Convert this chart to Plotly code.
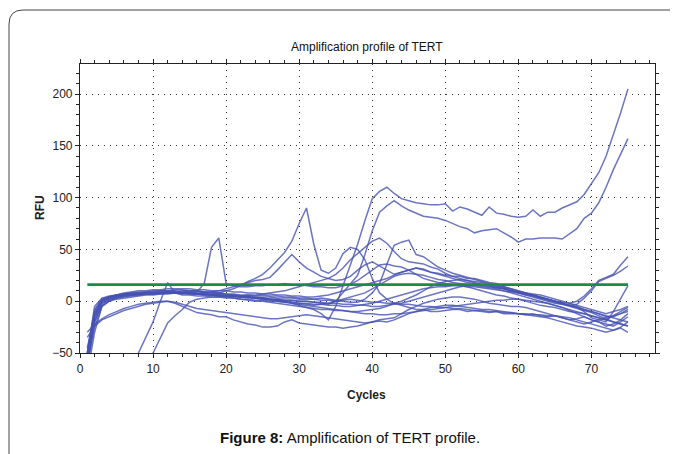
import plotly.graph_objects as go

cycles = list(range(1, 76))

curve_A = [-60, -20, -2, 2, 4, 5, 6, 6, 7, 7,
           8, 8, 8, 7, 8, 7, 6, 6, 5, 5,
           4, 4, 3, 3, 2, 2, 1, 0, -2, -4,
           -6, -8, -12, -18, -5, 15, 35, 55, 78, 99,
           106, 110, 104, 99, 97, 95, 94, 93, 93, 94,
           87, 91, 89, 86, 83, 91, 85, 84, 82, 81,
           82, 88, 82, 86, 86, 90, 93, 96, 103, 114,
           124, 140, 160, 182, 205]
curve_B = [-55, -15, 0, 3, 5, 6, 7, 7, 8, 8,
           8, 9, 9, 8, 8, 7, 7, 6, 6, 5,
           5, 4, 4, 3, 3, 2, 2, 1, 1, 0,
           0, -1, -2, -3, 0, 8, 16, 25, 45, 68,
           86, 92, 97, 92, 88, 85, 82, 81, 80, 78,
           75, 72, 70, 66, 68, 69, 70, 66, 62, 57,
           60, 60, 61, 61, 61, 60, 65, 70, 80, 85,
           95, 110, 127, 142, 157]
curve_C = [-70, -30, -5, 0, 3, 5, 6, 7, 7, 8,
           8, 9, 9, 10, 10, 9, 9, 8, 8, 10,
           12, 15, 19, 22, 26, 32, 40, 47, 58, 75,
           90, 55, 30, 27, 32, 46, 52, 50, 40, 22,
           8, 2, -2, -4, -6, -8, -8, -10, -10, -9,
           -8, -8, -10, -9, -10, -11, -10, -12, -12, -12,
           -13, -12, -14, -15, -14, -16, -18, -17, -15, -18,
           -20, -22, -24, -20, -15]
curve_D = [-55, -10, 2, 4, 5, 6, 7, 7, 7, 8,
           8, 8, 8, 8, 7, 7, 8, 9, 10, 12,
           14, 16, 18, 20, 21, 23, 30, 38, 45, 38,
           32, 28, 24, 22, 20, 21, 24, 30, 35, 38,
           34, 30, 26, 28, 30, 32, 31, 28, 27, 25,
           24, 24, 22, 22, 20, 18, 17, 14, 12, 10,
           8, 6, 4, 2, 0, -2, -4, -5, -8, -10,
           -12, -15, -14, -12, -10]
curve_E = [-50, -8, 2, 4, 6, 7, 7, 8, 8, 9,
           9, 9, 9, 8, 8, 9, 17, 52, 61, 17,
           15, 14, 14, 15, 15, 16, 16, 17, 16, 16,
           15, 14, 14, 13, 13, 15, 16, 20, 25, 30,
           35, 36, 34, 33, 30, 26, 22, 20, 18, 17,
           16, 15, 14, 12, 10, 8, 6, 5, 3, 2,
           0, -2, -4, -5, -6, -8, -10, -11, -12, -14,
           -16, -18, -20, -22, -24]
curve_F = [-60, -25, -5, 0, 2, 3, 4, 5, 6, 6,
           7, 7, 8, 8, 7, 7, 6, 6, 5, 4,
           3, 2, 1, 0, 0, -1, -2, -3, -4, -5,
           -6, -7, -8, -8, -9, -9, -10, -10, -9, -8,
           -7, -5, -2, 0, 3, 6, 10, 14, 17, 19,
           20, 21, 20, 19, 18, 16, 15, 13, 11, 9,
           7, 5, 3, 2, 0, -1, -2, 0, 5, 12,
           20, 23, 26, 35, 43]
curve_G = [-55, -20, -4, 1, 3, 4, 5, 6, 7, 7,
           7, 8, 8, 8, 8, 7, 7, 6, 6, 5,
           5, 4, 4, 3, 3, 2, 2, 1, 1, 0,
           0, -1, -1, -2, -2, -3, -3, -4, -4, -5,
           -5, -4, -3, -2, 0, 2, 4, 6, 8, 10,
           12, 14, 15, 16, 15, 14, 13, 12, 10, 8,
           6, 4, 2, 0, -2, -3, -4, -3, 3, 10,
           19, 22, 25, 29, 34]
curve_H = [-120, -110, -100, -90, -85, -78, -70, -50, -35, -20,
           0, 18, 8, 6, 6, 5, 5, 4, 4, 3,
           3, 2, 2, 1, 1, 0, 0, -1, -1, -2,
           -2, -3, -3, -4, -4, -5, -5, -4, -3, -2,
           0, 2, 4, 6, 8, 10, 12, 13, 14, 14,
           15, 15, 14, 14, 13, 12, 11, 10, 9, 8,
           7, 6, 4, 2, 0, -2, -4, -6, -10, -16,
           -18, -20, -10, 2, 15]
curve_I = [-130, -120, -110, -100, -95, -90, -85, -75, -65, -50,
           -35, -21, -14, -8, -1, 2, 3, 4, 4, 5,
           5, 5, 6, 6, 7, 8, 9, 10, 12, 14,
           16, 18, 20, 22, 26, 32, 40, 46, 52, 58,
           61, 56, 48, 41, 38, 37, 36, 33, 31, 27,
           24, 22, 20, 18, 16, 15, 13, 12, 10, 8,
           6, 5, 3, 1, -1, -3, -5, -7, -9, -11,
           -14, -17, -20, -22, -24]
curve_J = [-45, -12, 0, 3, 5, 6, 7, 7, 8, 8,
           8, 8, 9, 9, 9, 8, 8, 7, 7, 6,
           6, 5, 5, 4, 4, 4, 3, 3, 3, 2,
           2, 2, 1, 1, 0, 0, -1, -1, 2, 8,
           17, 35, 54, 57, 59, 45, 43, 38, 33, 30,
           27, 25, 23, 21, 19, 17, 15, 14, 12, 10,
           8, 6, 4, 2, 0, -2, -4, -6, -8, -10,
           -12, -14, -16, -18, -20]
curve_K = [-35, -24, -18, -15, -12, -9, -7, -5, -3, -2,
           -1, 0, -2, -5, -8, -11, -12, -13, -15, -15,
           -18, -20, -22, -23, -25, -25, -24, -20, -18, -21,
           -22, -23, -24, -25, -25, -26, -25, -24, -22, -20,
           -18, -17, -16, -12, -8, -5, -2, 0, 2, 3,
           4, 4, 3, 2, 0, -2, -3, -4, -5, -5,
           -6, -8, -10, -12, -14, -16, -18, -20, -22, -20,
           -18, -16, -15, -12, -8]
curve_L = [-30, -22, -17, -13, -10, -7, -5, -3, -2, -1,
           0, 0, -1, -3, -5, -7, -8, -9, -10, -11,
           -12, -13, -14, -15, -16, -17, -17, -16, -15, -14,
           -13, -14, -15, -16, -17, -18, -19, -20, -21, -20,
           -19, -20, -18, -15, -12, -10, -8, -6, -5, -4,
           -4, -5, -6, -7, -8, -8, -9, -10, -11, -12,
           -13, -14, -15, -16, -18, -20, -22, -24, -25, -26,
           -28, -30, -28, -26, -30]
curve_M = [-65, -15, 1, 4, 6, 7, 8, 9, 9, 10,
           10, 10, 10, 9, 10, 10, 9, 8, 8, 7,
           7, 6, 6, 5, 6, 5, 5, 4, 4, 3,
           3, 2, 3, 2, 1, 1, 2, 1, 0, -1,
           -1, -2, -2, -3, -3, -4, -5, -5, -6, -6,
           -7, -7, -8, -9, -9, -10, -10, -11, -11, -12,
           -12, -13, -13, -14, -14, -15, -16, -18, -20, -22,
           -24, -26, -28, -25, -20]
curve_N = [-50, -5, 3, 5, 6, 7, 8, 8, 9, 9,
           10, 10, 11, 11, 10, 10, 9, 9, 8, 7,
           6, 5, 4, 3, 2, 1, 0, -1, -2, -3,
           -4, -5, -6, -7, -8, -9, -10, -11, -12, -12,
           -13, -13, -12, -12, -11, -10, -9, -8, -7, -6,
           -5, -4, -3, -2, -1, 0, 1, 1, 2, 2,
           1, 0, -1, -2, -4, -6, -8, -10, -12, -14,
           -16, -18, -14, -10, -6]
curve_O = [-60, -18, 0, 4, 6, 8, 9, 10, 10, 11,
           11, 12, 12, 12, 12, 11, 11, 10, 10, 10,
           9, 9, 8, 8, 7, 7, 6, 6, 5, 5,
           4, 4, 5, 6, 8, 10, 12, 14, 16, 18,
           20, 22, 25, 28, 30, 32, 30, 28, 26, 24,
           22, 20, 18, 17, 16, 15, 14, 12, 10, 9,
           8, 7, 6, 4, 2, 0, -2, -4, -6, -8,
           -10, -12, -10, -8, -5]
curve_P = [-50, -12, -2, 2, 4, 5, 6, 7, 8, 8,
           9, 9, 8, 8, 8, 7, 7, 6, 6, 5,
           5, 4, 4, 3, 3, 2, 1, 0, -1, -2,
           -3, -4, -3, -2, 0, 2, 4, 6, 8, 12,
           16, 20, 24, 26, 27, 26, 25, 23, 21, 20,
           18, 17, 16, 15, 14, 13, 12, 10, 8, 6,
           4, 2, 0, -2, -4, -6, -9, -12, -15, -18,
           -20, -24, -22, -18, -12]

curves = [curve_A, curve_B, curve_C, curve_D, curve_E, curve_F, curve_G, curve_H,
          curve_I, curve_J, curve_K, curve_L, curve_M, curve_N, curve_O, curve_P]

threshold_x = [1, 75]
threshold_y = [16, 16]

x_ticks = [0, 10, 20, 30, 40, 50, 60, 70]
y_ticks = [-50, 0, 50, 100, 150, 200]

narrow = "Liberation Sans Narrow, Arial Narrow, Liberation Sans, Arial, sans-serif"

# the page body adds an 8px margin, so work in page pixels minus 8
OFF = 8
W, H = 678 - OFF, 454 - OFF
L, R, T, B = 80 - OFF, 655 - OFF, 64 - OFF, 353 - OFF
PW, PH = R - L, B - T


def px(xp):
    return (xp - OFF - L) / PW


def py(yp):
    return (B - (yp - OFF)) / PH


fig = go.Figure()
for c in curves:
    fig.add_trace(go.Scatter(x=cycles, y=c, mode="lines",
                             line=dict(color="rgba(70,82,178,0.8)", width=1.5),
                             showlegend=False, hoverinfo="skip"))
fig.add_trace(go.Scatter(x=threshold_x, y=threshold_y, mode="lines",
                         line=dict(color="#1f8a43", width=2.6),
                         showlegend=False, hoverinfo="skip"))

axis_common = dict(
    showline=True, linecolor="#222", linewidth=1.2, mirror="allticks",
    ticks="outside", ticklen=4, tickwidth=1.2, tickcolor="#222",
    showgrid=True, gridcolor="#333", griddash="1px,5px", gridwidth=1.2,
    zeroline=False, automargin=False,
    tickfont=dict(family=narrow, size=12, color="#222"),
)

fig.update_xaxes(range=[0, 78.7], tickvals=x_ticks,
                 minor=dict(dtick=2, ticks="outside", ticklen=3, tickcolor="#222", showgrid=False),
                 **axis_common)
fig.update_yaxes(range=[-50, 229], tickvals=y_ticks,
                 minor=dict(dtick=10, ticks="outside", ticklen=3, tickcolor="#222", showgrid=False),
                 **axis_common)

fig.update_layout(
    width=W, height=H,
    margin=dict(l=L, r=W - R, t=T, b=H - B, autoexpand=False),
    paper_bgcolor="white", plot_bgcolor="white",
    annotations=[
        dict(text="Amplification profile of TERT", xref="paper", yref="paper",
             x=px(367), y=py(47), xanchor="center", yanchor="middle", showarrow=False,
             font=dict(family=narrow, size=12, color="#111")),
        dict(text="<b>RFU</b>", xref="paper", yref="paper", textangle=-90,
             x=px(40), y=py(208), xanchor="center", yanchor="middle", showarrow=False,
             font=dict(family=narrow, size=12, color="#222")),
        dict(text="<b>Cycles</b>", xref="paper", yref="paper",
             x=px(366), y=py(395), xanchor="center", yanchor="middle", showarrow=False,
             font=dict(family=narrow, size=12, color="#222")),
        dict(text="<b>Figure 8:</b> Amplification of TERT profile.",
             xref="paper", yref="paper", x=px(350), y=py(437),
             xanchor="center", yanchor="middle", showarrow=False,
             font=dict(family="Liberation Sans, Arial, sans-serif", size=15, color="#111")),
    ],
    shapes=[dict(type="path", xref="paper", yref="paper",
                 path="M {x0} {y0} L {x0} {y1} Q {x0} {y2} {x1} {y2} L {x2} {y2}".format(
                     x0=px(9), y0=py(454), y1=py(24), y2=py(10), x1=px(23), x2=px(678)),
                 line=dict(color="#444", width=1))],
)

fig.write_html("out.html")
